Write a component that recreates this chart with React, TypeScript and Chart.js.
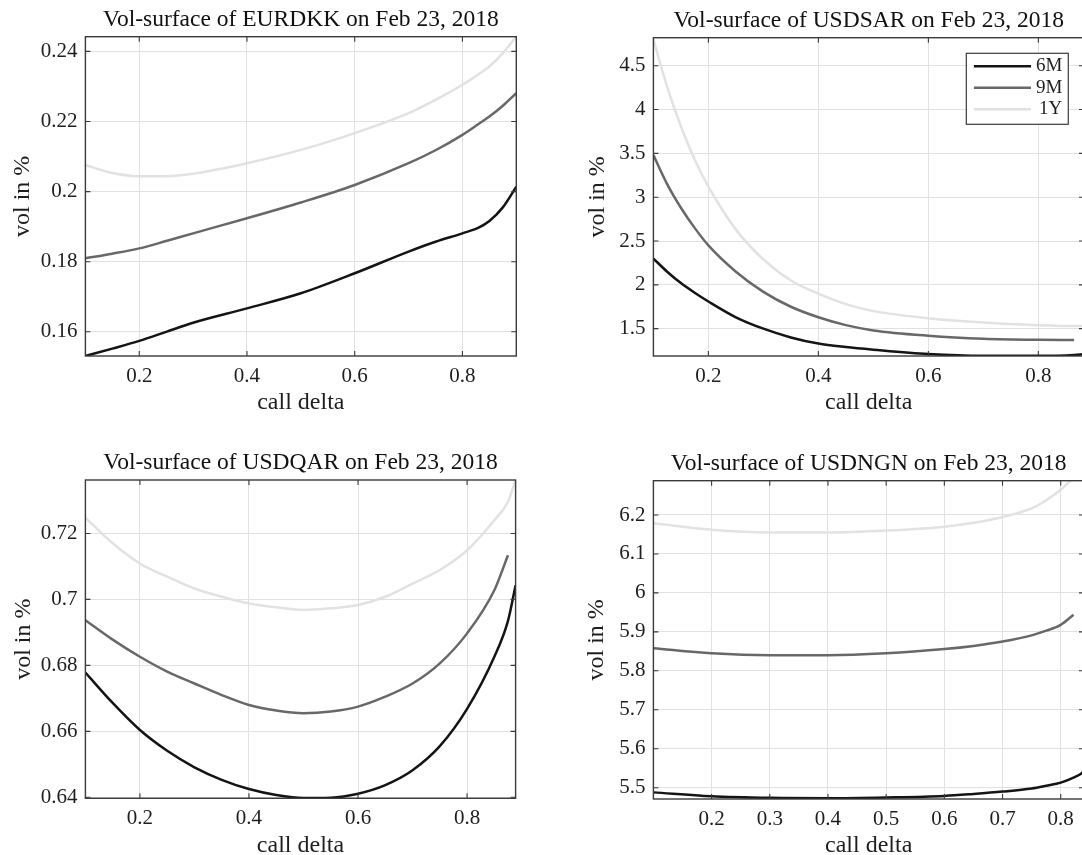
import React, { useEffect, useRef } from 'react';
import { Chart, registerables } from 'chart.js';

Chart.register(...registerables);

// ---------- data ----------
const SERIES_LABELS = ['6M', '9M', '1Y'];

const EURDKK_DELTA = [0.1, 0.15, 0.2, 0.25, 0.3, 0.4, 0.5, 0.6, 0.7, 0.75, 0.8, 0.83, 0.85, 0.875, 0.9];
const EURDKK_6M = [0.1531, 0.1552, 0.1574, 0.16, 0.1626, 0.1667, 0.171, 0.1767, 0.1829, 0.1857, 0.1881, 0.1897, 0.1916, 0.1955, 0.2014];
const EURDKK_9M = [0.181, 0.1823, 0.1838, 0.1859, 0.1881, 0.1924, 0.1969, 0.2019, 0.2081, 0.2118, 0.2162, 0.2193, 0.2214, 0.2245, 0.2281];
const EURDKK_1Y = [0.2076, 0.2053, 0.2044, 0.2044, 0.2051, 0.2081, 0.2119, 0.2167, 0.2224, 0.2262, 0.2305, 0.2335, 0.2357, 0.2395, 0.2442];

const USDSAR_DELTA = [0.1, 0.125, 0.15, 0.175, 0.2, 0.25, 0.3, 0.35, 0.4, 0.45, 0.5, 0.6, 0.7, 0.8, 0.865, 0.883];
const USDSAR_6M = [2.3, 2.15, 2.02, 1.91, 1.81, 1.63, 1.5, 1.4, 1.33, 1.29, 1.26, 1.21, 1.19, 1.19, 1.2, 1.21];
const USDSAR_9M = [3.48, 3.15, 2.88, 2.65, 2.45, 2.15, 1.92, 1.75, 1.63, 1.54, 1.48, 1.42, 1.385, 1.372, 1.37, null];
const USDSAR_1Y = [4.8, 4.26, 3.81, 3.43, 3.12, 2.63, 2.29, 2.05, 1.9, 1.78, 1.7, 1.62, 1.57, 1.54, 1.53, 1.53];

const USDQAR_DELTA = [0.1, 0.15, 0.2, 0.25, 0.3, 0.35, 0.4, 0.45, 0.5, 0.55, 0.6, 0.65, 0.7, 0.75, 0.8, 0.85, 0.875, 0.889];
const USDQAR_6M = [0.6778, 0.6686, 0.6604, 0.6541, 0.6491, 0.6453, 0.6425, 0.6407, 0.6398, 0.6399, 0.6411, 0.6437, 0.6482, 0.6555, 0.6668, 0.6826, 0.6935, 0.7043];
const USDQAR_9M = [0.6937, 0.6878, 0.6826, 0.6781, 0.6745, 0.671, 0.668, 0.6663, 0.6655, 0.666, 0.6675, 0.6705, 0.6745, 0.6806, 0.6897, 0.7028, 0.7134, null];
const USDQAR_1Y = [0.7248, 0.717, 0.7109, 0.7069, 0.7033, 0.7008, 0.6988, 0.6976, 0.6968, 0.6973, 0.6983, 0.7008, 0.7048, 0.7089, 0.7149, 0.724, 0.7296, 0.7362];

const USDNGN_DELTA = [0.1, 0.2, 0.3, 0.4, 0.5, 0.6, 0.65, 0.7, 0.75, 0.775, 0.8, 0.822, 0.835, 0.84];
const USDNGN_6M = [5.488, 5.478, 5.474, 5.473, 5.475, 5.479, 5.484, 5.49, 5.498, 5.505, 5.513, 5.526, 5.536, 5.543];
const USDNGN_9M = [5.858, 5.845, 5.84, 5.84, 5.845, 5.856, 5.864, 5.875, 5.891, 5.903, 5.918, 5.944, null, null];
const USDNGN_1Y = [6.179, 6.162, 6.155, 6.155, 6.16, 6.17, 6.18, 6.195, 6.217, 6.238, 6.265, 6.295, null, null];

const X_TICKS_COARSE = [0.2, 0.4, 0.6, 0.8];
const X_TICKS_FINE = [0.2, 0.3, 0.4, 0.5, 0.6, 0.7, 0.8];
const EURDKK_Y_TICKS = [0.16, 0.18, 0.2, 0.22, 0.24];
const USDSAR_Y_TICKS = [1.5, 2, 2.5, 3, 3.5, 4, 4.5];
const USDQAR_Y_TICKS = [0.64, 0.66, 0.68, 0.7, 0.72];
const USDNGN_Y_TICKS = [5.5, 5.6, 5.7, 5.8, 5.9, 6, 6.1, 6.2];

const X_LABEL = 'call delta';
const Y_LABEL = 'vol in %';
const DATE_LABEL = 'Feb 23, 2018';

// ---------- styling ----------
const FONT = "'Liberation Serif', 'Times New Roman', serif";
const SERIES_COLORS = ['#141414', '#686868', '#e2e2e2'];
const GRID = '#e1e1e1';
const AXIS_COLOR = '#3a3a3a';
const TEXT_COLOR = '#1e1e1e';
const TITLE_SIZE = 23.5;
const TICK_SIZE = 21;
const LABEL_SIZE = 24;

type Area = { l: number; t: number; r: number; b: number };
type Panel = {
  pair: string;
  delta: number[];
  series: (number | null)[][];
  xMin: number; xMax: number; yMin: number; yMax: number;
  xTicks: number[]; yTicks: number[];
  area: Area;
  yTitleX: number;
  legend: boolean;
};

const PANELS: Panel[] = [
  { pair: 'EURDKK', delta: EURDKK_DELTA, series: [EURDKK_6M, EURDKK_9M, EURDKK_1Y],
    xMin: 0.1, xMax: 0.9, yMin: 0.1531, yMax: 0.2442, xTicks: X_TICKS_COARSE, yTicks: EURDKK_Y_TICKS,
    area: { l: 85.4, t: 36.7, r: 516.3, b: 356 }, yTitleX: 23, legend: false },
  { pair: 'USDSAR', delta: USDSAR_DELTA, series: [USDSAR_6M, USDSAR_9M, USDSAR_1Y],
    xMin: 0.1, xMax: 0.883, yMin: 1.188, yMax: 4.82, xTicks: X_TICKS_COARSE, yTicks: USDSAR_Y_TICKS,
    area: { l: 653.4, t: 37.7, r: 1084, b: 356 }, yTitleX: 598, legend: true },
  { pair: 'USDQAR', delta: USDQAR_DELTA, series: [USDQAR_6M, USDQAR_9M, USDQAR_1Y],
    xMin: 0.1, xMax: 0.889, yMin: 0.6397, yMax: 0.7362, xTicks: X_TICKS_COARSE, yTicks: USDQAR_Y_TICKS,
    area: { l: 85.4, t: 480, r: 515.6, b: 798.3 }, yTitleX: 24, legend: false },
  { pair: 'USDNGN', delta: USDNGN_DELTA, series: [USDNGN_6M, USDNGN_9M, USDNGN_1Y],
    xMin: 0.1, xMax: 0.84, yMin: 5.471, yMax: 6.288, xTicks: X_TICKS_FINE, yTicks: USDNGN_Y_TICKS,
    area: { l: 653.4, t: 480.7, r: 1084, b: 799 }, yTitleX: 597, legend: false },
];

const fmt = (v: number) => String(Number(v.toFixed(6)));

const boxPlugin = {
  id: 'matlabBox',
  afterDatasetsDraw(chart: any) {
    const { ctx, chartArea: a, scales } = chart;
    ctx.save();
    ctx.strokeStyle = AXIS_COLOR;
    ctx.lineWidth = 1.4;
    ctx.strokeRect(a.left, a.top, a.right - a.left, a.bottom - a.top);
    const L = 5;
    ctx.lineWidth = 1.1;
    ctx.beginPath();
    scales.x.ticks.forEach((t: any) => {
      const px = scales.x.getPixelForValue(t.value);
      ctx.moveTo(px, a.bottom); ctx.lineTo(px, a.bottom - L);
      ctx.moveTo(px, a.top); ctx.lineTo(px, a.top + L);
    });
    scales.y.ticks.forEach((t: any) => {
      const py = scales.y.getPixelForValue(t.value);
      ctx.moveTo(a.left, py); ctx.lineTo(a.left + L, py);
      ctx.moveTo(a.right, py); ctx.lineTo(a.right - L, py);
    });
    ctx.stroke();
    ctx.restore();
  },
};

const makeLegendPlugin = (show: boolean) => ({
  id: 'matlabLegend',
  afterDraw(chart: any) {
    if (!show) return;
    const { ctx, chartArea: a } = chart;
    const w = 102, h = 71;
    const right = a.right - 15.7;
    const top = a.top + 15.6;
    const left = right - w;
    ctx.save();
    ctx.fillStyle = '#ffffff';
    ctx.fillRect(left, top, w, h);
    ctx.strokeStyle = AXIS_COLOR;
    ctx.lineWidth = 1.2;
    ctx.strokeRect(left, top, w, h);
    chart.data.datasets.forEach((ds: any, i: number) => {
      const y = top + 13 + i * 21.5;
      ctx.strokeStyle = ds.borderColor;
      ctx.lineWidth = ds.borderWidth;
      ctx.beginPath();
      ctx.moveTo(left + 7.6, y);
      ctx.lineTo(left + 64.7, y);
      ctx.stroke();
      ctx.fillStyle = TEXT_COLOR;
      ctx.font = `19px ${FONT}`;
      ctx.textAlign = 'right';
      ctx.textBaseline = 'middle';
      ctx.fillText(ds.label, left + w - 6, y);
    });
    ctx.restore();
  },
});

const Y_AXIS_W = 85.4;
const TITLE_H = 36.7;
const X_AXIS_H = 71;
const RIGHT_PAD = 18;

function PanelChart({ p }: { p: Panel }) {
  const ref = useRef<HTMLCanvasElement>(null);
  const cl = Math.floor(p.area.l - Y_AXIS_W);
  const ct = Math.floor(p.area.t - TITLE_H);
  const yAxisW = p.area.l - cl;
  const titleH = p.area.t - ct;
  const cw = Math.ceil(p.area.r - cl + RIGHT_PAD);
  const ch = Math.ceil(p.area.b - ct + X_AXIS_H);
  const padRight = cw - (p.area.r - cl);
  const xAxisH = ch - (p.area.b - ct);

  useEffect(() => {
    if (!ref.current) return;
    const titleLH = TITLE_SIZE * 1.2;
    const titlePadTop = titleH - 17 - titleLH / 2;
    const titlePadBottom = titleH - titleLH - titlePadTop;
    const tickLH = TICK_SIZE * 1.2;
    const labelLH = LABEL_SIZE * 1.2;
    const xTickPad = 20 - tickLH / 2;
    const xTitlePadBottom = xAxisH - 47 - labelLH / 2;
    const yTitlePadTop = p.yTitleX - cl - labelLH / 2;

    const datasets = SERIES_LABELS.map((label, i) => ({
      label,
      data: p.delta
        .map((x, j) => ({ x, y: p.series[i][j] }))
        .filter((pt) => pt.y !== null && pt.y !== undefined),
      borderColor: SERIES_COLORS[i],
      backgroundColor: SERIES_COLORS[i],
      borderWidth: 2.5,
      pointRadius: 0,
      cubicInterpolationMode: 'monotone' as const,
      fill: false,
      order: 3 - i,
    }));

    const tickFont = { family: FONT, size: TICK_SIZE, weight: 'normal' as const, lineHeight: 1.2 };
    const labelFont = { family: FONT, size: LABEL_SIZE, weight: 'normal' as const, lineHeight: 1.2 };

    const chart = new Chart(ref.current, {
      type: 'line',
      data: { datasets: datasets as any },
      plugins: [boxPlugin, makeLegendPlugin(p.legend)],
      options: {
        animation: false,
        responsive: false,
        devicePixelRatio: 1,
        layout: { padding: { left: 0, top: 0, right: padRight, bottom: 0 } },
        plugins: {
          legend: { display: false },
          tooltip: { enabled: false },
          title: {
            display: true,
            text: `Vol-surface of ${p.pair} on ${DATE_LABEL}`,
            fullSize: false,
            color: '#111111',
            font: { family: FONT, size: TITLE_SIZE, weight: 'normal', lineHeight: 1.2 },
            padding: { top: titlePadTop, bottom: titlePadBottom },
          },
        },
        scales: {
          x: {
            type: 'linear',
            min: p.xMin,
            max: p.xMax,
            afterBuildTicks: (s: any) => { s.ticks = p.xTicks.map((v) => ({ value: v })); },
            afterFit: (s: any) => { s.height = xAxisH; },
            grid: { color: GRID, drawTicks: false, lineWidth: 1 },
            border: { display: false },
            ticks: { padding: xTickPad, color: TEXT_COLOR, font: tickFont, maxRotation: 0, callback: (v: any) => fmt(Number(v)) },
            title: { display: true, text: X_LABEL, color: TEXT_COLOR, font: labelFont, padding: { top: 0, bottom: xTitlePadBottom } },
          },
          y: {
            type: 'linear',
            min: p.yMin,
            max: p.yMax,
            afterBuildTicks: (s: any) => { s.ticks = p.yTicks.map((v) => ({ value: v })); },
            afterFit: (s: any) => { s.width = yAxisW; },
            grid: { color: GRID, drawTicks: false, lineWidth: 1 },
            border: { display: false },
            ticks: { padding: 8, color: TEXT_COLOR, font: tickFont, callback: (v: any) => fmt(Number(v)) },
            title: { display: true, text: Y_LABEL, color: TEXT_COLOR, font: labelFont, padding: { top: yTitlePadTop, bottom: 0 } },
          },
        },
      } as any,
    });
    return () => chart.destroy();
  }, []);

  return (
    <canvas
      ref={ref}
      width={cw}
      height={ch}
      style={{ position: 'absolute', left: cl, top: ct, width: cw, height: ch }}
    />
  );
}

export default function App() {
  return (
    <div style={{ position: 'absolute', left: 0, top: 0, width: 1082, height: 855, overflow: 'hidden', background: '#ffffff' }}>
      {PANELS.map((p) => (
        <PanelChart key={p.pair} p={p} />
      ))}
    </div>
  );
}
